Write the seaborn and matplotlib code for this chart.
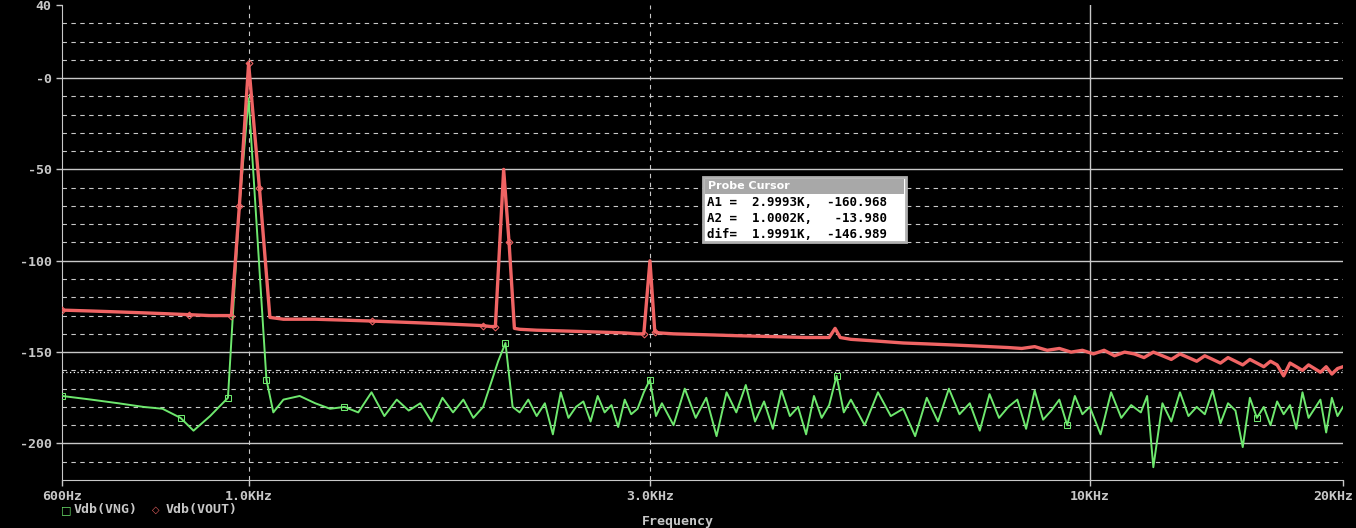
import matplotlib
matplotlib.use('Agg')
import matplotlib.pyplot as plt
import matplotlib.transforms as mtrans
import seaborn as sns
import pandas as pd
from matplotlib.patches import Rectangle

# Vdb(VOUT) - red trace
f_out = [600, 650, 700, 750, 800, 850, 900, 930, 954, 975, 1000, 1030, 1060, 1080, 1100,
         1200, 1300, 1400, 1500, 1600, 1700, 1800, 1900, 1940, 1965, 2010, 2040, 2070, 2100,
         2200, 2400, 2600, 2800, 2900, 2950, 3000, 3040, 3080, 3200, 3500, 3800, 4200, 4600,
         4900, 4980, 5050, 5200, 5600, 6000, 6400, 6800, 7200, 7600, 8000, 8300, 8600, 8900,
         9200, 9500, 9800, 10100, 10400, 10700, 11000, 11300, 11600, 11900, 12200, 12500,
         12800, 13100, 13400, 13700, 14000, 14300, 14600, 14900, 15200, 15500, 15800, 16100,
         16400, 16700, 17000, 17300, 17600, 17900, 18200, 18500, 18800, 19100, 19400, 19700, 20000]
v_out = [-127, -127.5, -128, -128.5, -129, -129.5, -130, -130, -130, -70, 8, -60, -131, -131.5, -132,
         -132, -132.5, -133, -133.5, -134, -134.5, -135, -135.5, -136, -136, -50, -90, -137, -137.5,
         -138, -138.5, -139, -139.5, -140, -140, -100, -139, -139.5, -140, -140.5, -141, -141.5, -142,
         -142, -137, -142, -143, -144, -145, -145.5, -146, -146.5, -147, -147.5, -148, -147, -149,
         -148, -150, -149, -151, -149, -152, -150, -151, -153, -150, -152, -154,
         -151, -153, -155, -152, -154, -156, -153, -155, -157, -154, -156, -158,
         -155, -157, -163, -156, -158, -160, -157, -159, -161, -158, -162, -159, -158]

# Vdb(VNG) - green trace
f_ng = [600, 650, 700, 750, 790, 830, 860, 900, 945, 975, 1000, 1050, 1070, 1100, 1150,
        1200, 1250, 1300, 1350, 1400, 1450, 1500, 1550, 1600, 1650, 1700, 1750, 1800, 1850,
        1900, 1980, 2020, 2060, 2100, 2150, 2200, 2250, 2300, 2350, 2400, 2450, 2500, 2550,
        2600, 2650, 2700, 2750, 2800, 2850, 2900, 2950, 3000, 3050, 3100, 3200, 3300, 3400,
        3500, 3600, 3700, 3800, 3900, 4000, 4100, 4200, 4300, 4400, 4500, 4600, 4700, 4800,
        4900, 5000, 5100, 5200, 5400, 5600, 5800, 6000, 6200, 6400, 6600, 6800, 7000, 7200,
        7400, 7600, 7800, 8000, 8200, 8400, 8600, 8800, 9000, 9200, 9400, 9600, 9800, 10000,
        10300, 10600, 10900, 11200, 11500, 11700, 11900, 12200, 12500, 12800, 13100, 13400,
        13700, 14000, 14300, 14600, 14900, 15200, 15500, 15800, 16100, 16400, 16700, 17000,
        17300, 17600, 17900, 18200, 18500, 18800, 19100, 19400, 19700, 20000]
v_ng = [-174, -176, -178, -180, -181, -186, -193, -185, -175, -70, -11, -165, -183, -176, -174,
        -178, -181, -180, -183, -172, -185, -176, -182, -178, -188, -175, -183, -176, -186,
        -180, -155, -145, -180, -183, -176, -185, -178, -195, -172, -186, -180, -177, -188,
        -174, -183, -179, -191, -176, -184, -181, -172, -165, -185, -178, -190, -170, -186,
        -175, -196, -172, -183, -168, -188, -177, -192, -171, -185, -180, -195, -174, -186,
        -179, -163, -183, -176, -190, -172, -185, -181, -196, -175, -188, -170, -184, -178,
        -193, -173, -186, -180, -176, -192, -171, -187, -182, -176, -190, -174, -184, -180,
        -195, -172, -186, -179, -183, -174, -213, -178, -188, -172, -185, -180,
        -184, -171, -189, -178, -182, -202, -175, -186, -180, -190, -177, -184,
        -179, -192, -172, -186, -181, -176, -194, -175, -185, -180]

df_out = pd.DataFrame({'freq': f_out, 'db': v_out})
df_ng = pd.DataFrame({'freq': f_ng, 'db': v_ng})

grey = '#c8c8c8'
font = {'family': 'DejaVu Sans Mono', 'weight': 'bold', 'color': grey, 'size': 9.5}

fig = plt.figure(figsize=(13.56, 5.28), dpi=100, facecolor='black')
ax = fig.add_axes([62 / 1356, 1 - 480 / 528, (1343 - 62) / 1356, (480 - 5) / 528])
ax.set_facecolor('black')
ax.set_xscale('log')
ax.set_xlim(600, 20000)
ax.set_ylim(-220, 40)

# grid
for y in range(-210, 40, 10):
    if y % 50 == 0:
        ax.axhline(y, color=grey, lw=1, zorder=0)
    else:
        ax.axhline(y, color=grey, lw=0.8, ls=(0, (4, 4)), zorder=0)
ax.axvline(1000, color=grey, lw=0.8, ls=(0, (4, 4)), zorder=0)
ax.axvline(3000, color=grey, lw=0.8, ls=(0, (4, 4)), zorder=0)
ax.axvline(10000, color=grey, lw=1, zorder=0)
ax.axhline(-160.968, color='white', lw=0.9, ls=(0, (1, 2)), zorder=0)

sns.lineplot(data=df_ng, x='freq', y='db', ax=ax, color='#6ee86e', lw=1.4,
             marker='s', markersize=4, markerfacecolor='none', markeredgecolor='#6ee86e',
             markevery=[0, 5, 8, 10, 11, 17, 31, 51, 72, 95, 118], zorder=3)
sns.lineplot(data=df_out, x='freq', y='db', ax=ax, color='#f06464', lw=2.4,
             marker='D', markersize=3.5, markerfacecolor='none', markeredgecolor='#f06464',
             markevery=[0, 5, 8, 9, 10, 11, 17, 22, 24, 26, 34, 36], zorder=4)

for s in ax.spines.values():
    s.set_color(grey)
ax.spines['right'].set_visible(False)
ax.spines['top'].set_visible(False)
ax.set_xlabel('')
ax.set_ylabel('')
ax.set_xticks([600, 1000, 3000, 10000, 20000])
ax.set_xticklabels(['600Hz', '1.0KHz', '3.0KHz', '10KHz', '20KHz'])
ax.xaxis.set_minor_locator(matplotlib.ticker.NullLocator())
ax.set_yticks([40, 0, -50, -100, -150, -200])
ax.set_yticklabels(['40', '-0', '-50', '-100', '-150', '-200'])
ax.tick_params(colors=grey, labelsize=9.5, length=4, width=1)
for lbl in ax.get_xticklabels() + ax.get_yticklabels():
    lbl.set_family('DejaVu Sans Mono')
    lbl.set_weight('bold')
last = ax.get_xticklabels()[-1]
last.set_ha('right')
last.set_transform(last.get_transform() + mtrans.ScaledTranslation(10 / 100, 0, fig.dpi_scale_trans))

# legend text
fig.text(61 / 1356, 1 - 510 / 528, '\u25a1', fontsize=8, color='#6ee86e', va='center')
fig.text(74 / 1356, 1 - 510 / 528, 'Vdb(VNG)', va='center', **font)
fig.text(152 / 1356, 1 - 510 / 528, '\u25c7', fontsize=7, color='#f06464', va='center')
fig.text(166 / 1356, 1 - 510 / 528, 'Vdb(VOUT)', va='center', **font)
fig.text(0.5, 1 - 522 / 528, 'Frequency', ha='center', va='center', **font)

# probe cursor box
fig.patches.append(Rectangle((703 / 1356, 1 - 242 / 528), 203 / 1356, 65 / 528,
                             transform=fig.transFigure, facecolor='white',
                             edgecolor='#b0b0b0', lw=2))
fig.patches.append(Rectangle((705 / 1356, 1 - 194 / 528), 199 / 1356, 15 / 528,
                             transform=fig.transFigure, facecolor='#a8a8a8', edgecolor='none'))
fig.text(708 / 1356, 1 - 186 / 528, 'Probe Cursor', fontsize=8, color='white',
         weight='bold', va='center')
rows = ['A1 =  2.9993K,  -160.968', 'A2 =  1.0002K,   -13.980', 'dif=  1.9991K,  -146.989']
for i, r in enumerate(rows):
    fig.text(707 / 1356, 1 - (203 + i * 16) / 528, r, fontsize=9, color='black',
             family='DejaVu Sans Mono', weight='bold', va='center')

fig.savefig('out.png', dpi=100, facecolor='black')
